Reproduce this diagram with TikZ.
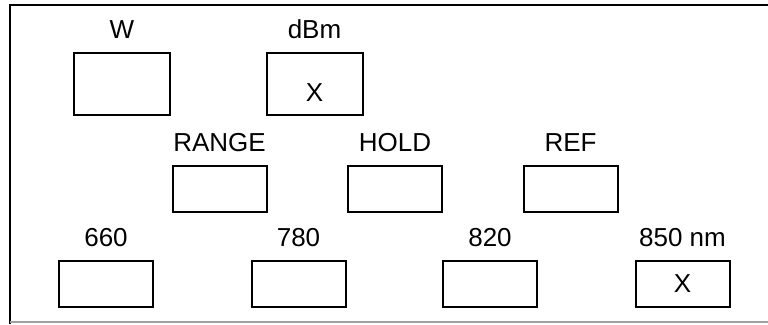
\documentclass[tikz,border=0pt]{standalone}
\usepackage{fontspec}
\setmainfont{Liberation Sans}
\usetikzlibrary{positioning}
\definecolor{framegray}{RGB}{160,160,160}

\begin{document}
\begin{tikzpicture}[x=1pt,y=-1pt,
  key/.style={draw,line width=2pt,minimum width=94pt,minimum height=46pt,inner sep=0pt,font=\fontsize{26}{31}\selectfont},
  bigkey/.style={key,minimum width=96pt,minimum height=62pt},
  lbl/.style={inner sep=0pt,text depth=0pt,font=\fontsize{26}{31}\selectfont}]
\useasboundingbox (0,0) rectangle (768,324);
% Panel frame
\draw[line width=2pt] (10,324) -- (10,4.5) -- (768,4.5);
\draw[framegray,line width=1.5pt] (10,322) -- (768,322);
% Unit keys
\node[bigkey] (w) at (122,84) {};
\node[bigkey] (dbm) at (314.5,84) {};
\node[lbl,above=13pt of w] (wlbl) {W};
\node[lbl,above=13pt of dbm] (dbmlbl) {dBm};
\node[lbl] (dbmx) at ([yshift=-8.5pt]dbm.center) {X};
% Function keys
\node[key] (range) at (219.5,188.5) {};
\node[key] (hold) at (395,188.5) {};
\node[key] (ref) at (570.5,188.5) {};
\node[lbl,above=13pt of range] (rangelbl) {RANGE};
\node[lbl,above=13pt of hold] (holdlbl) {HOLD};
\node[lbl,above=13pt of ref] (reflbl) {REF};
% Wavelength keys
\node[key] (wl660) at (106,284) {};
\node[key] (wl780) at (298.5,284) {};
\node[key] (wl820) at (490,284) {};
\node[key] (wl850) at (682.5,284) {X};
\node[lbl,above=13pt of wl660] (lbl660) {660};
\node[lbl,above=13pt of wl780] (lbl780) {780};
\node[lbl,above=13pt of wl820] (lbl820) {820};
\node[lbl,above=13pt of wl850] (lbl850) {850 nm};
\end{tikzpicture}
\end{document}
